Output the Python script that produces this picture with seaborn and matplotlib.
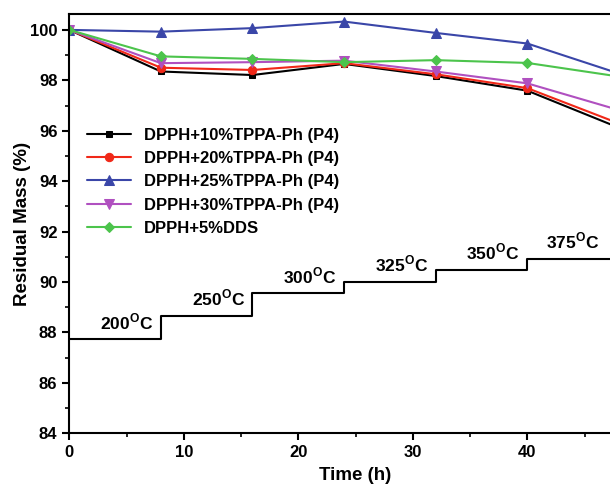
import matplotlib
matplotlib.use("Agg")
import matplotlib.pyplot as plt
import pandas as pd
import seaborn as sns
from matplotlib.ticker import MultipleLocator

# Data
time_h = [0, 8, 16, 24, 32, 40, 48]
p10 = [100, 98.35, 98.21, 98.65, 98.17, 97.59, 96.12]
p20 = [100, 98.50, 98.41, 98.68, 98.24, 97.69, 96.29]
p25 = [100, 99.93, 100.07, 100.33, 99.88, 99.46, 98.27]
p30 = [100, 98.68, 98.72, 98.78, 98.35, 97.88, 96.82]
dds = [100, 98.95, 98.85, 98.72, 98.80, 98.69, 98.15]

series_names = ["DPPH+10%TPPA-Ph (P4)", "DPPH+20%TPPA-Ph (P4)",
                "DPPH+25%TPPA-Ph (P4)", "DPPH+30%TPPA-Ph (P4)", "DPPH+5%DDS"]
series_values = [p10, p20, p25, p30, dds]

# temperature program (step line)
step_t = [0, 8, 16, 24, 32, 40, 50]
step_level = [87.73, 88.65, 89.55, 90.0, 90.48, 90.93, 90.93]
temps = ["200", "250", "300", "325", "350", "375"]

colors = ["#000000", "#f02818", "#3a46a8", "#b050c0", "#4cc44c"]
markers = ["s", "o", "^", "v", "D"]
msizes = [5, 6, 6.5, 6.5, 5]

sns.set_style("ticks")
plt.rcParams["font.family"] = ["Liberation Sans", "DejaVu Sans"]
plt.rcParams["font.weight"] = "bold"
plt.rcParams["text.color"] = "black"
plt.rcParams["axes.labelcolor"] = "black"
plt.rcParams["xtick.color"] = "black"
plt.rcParams["ytick.color"] = "black"
plt.rcParams["axes.edgecolor"] = "black"

fig = plt.figure(figsize=(6.1, 4.88), dpi=100)
ax = fig.add_axes([0.1136, 0.1121, 0.9385, 0.8592])

for name, vals, c, m, ms in zip(series_names, series_values, colors, markers, msizes):
    df = pd.DataFrame({"t": time_h, "v": vals})
    sns.lineplot(data=df, x="t", y="v", ax=ax, color=c, marker=m, markersize=ms,
                 markeredgecolor=c, linewidth=1.5, label=name)

# temperature steps
ax.step(step_t, step_level, where="post", color="black", linewidth=1.5)
for i, tlab in enumerate(temps):
    xm = (step_t[i] + min(step_t[i + 1], 46)) / 2
    ax.text(xm + 1.0, step_level[i] + 0.7, tlab + r"$^\mathregular{O}$C",
            ha="center", va="center", fontsize=12.5, fontweight="bold")

ax.set_xlim(0, 50)
ax.set_ylim(84, 100.63)
ax.set_xticks([0, 10, 20, 30, 40])
ax.xaxis.set_minor_locator(MultipleLocator(5))
ax.yaxis.set_major_locator(MultipleLocator(2))
ax.yaxis.set_minor_locator(MultipleLocator(1))
ax.tick_params(which="major", length=5, width=1.5, labelsize=12, direction="out")
ax.tick_params(which="minor", length=3, width=1.2, direction="out")
for lab in ax.get_xticklabels() + ax.get_yticklabels():
    lab.set_fontweight("bold")
for s in ax.spines.values():
    s.set_linewidth(1.5)

ax.set_xlabel("Time (h)", fontsize=13.5, fontweight="bold", labelpad=5)
ax.set_ylabel("Residual Mass (%)", fontsize=13.5, fontweight="bold", labelpad=-1)

ax.legend(loc="upper left", bbox_to_anchor=(0.02, 0.745), frameon=False,
          fontsize=12, handlelength=2.6, handletextpad=0.8, labelspacing=0.5,
          borderaxespad=0)

fig.savefig("out.png", dpi=100)
